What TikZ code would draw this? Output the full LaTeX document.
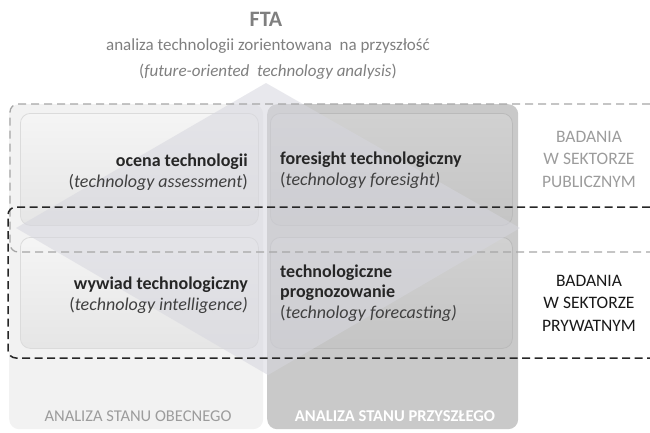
\documentclass[tikz,border=0pt]{standalone}
\usepackage{fontspec}
\setmainfont{Carlito}
\definecolor{colLbg}{HTML}{F2F2F2}
\definecolor{colRbg}{HTML}{C9C9C9}
\definecolor{diam}{HTML}{D6D6DE}
\definecolor{txtdark}{HTML}{262626}
\definecolor{txtit}{HTML}{404040}
\definecolor{titlegray}{HTML}{7F7F7F}
\definecolor{pubgray}{HTML}{9C9C9C}
\definecolor{dashgray}{HTML}{A6A6A6}
\begin{document}
\begin{tikzpicture}[x=1pt,y=-1pt,
  column/.style={rounded corners=10pt, minimum height=325pt, anchor=north west, inner sep=0pt},
  lbox/.style={rounded corners=10pt, minimum width=238pt, minimum height=112pt, anchor=north west, inner sep=0pt,
     top color=white!96!black, bottom color=white!90!black, draw=white!86!black, line width=0.8pt},
  rbox/.style={rounded corners=10pt, minimum width=242pt, minimum height=112pt, anchor=north west, inner sep=0pt,
     top color=white!82!black, bottom color=white!77!black, draw=white!73!black, line width=0.8pt},
  boxtext/.style={font=\fontsize{18}{20.5}\selectfont, text=txtdark, inner sep=0pt},
  sidelabel/.style={font=\fontsize{17.5}{22.5}\selectfont, align=center, inner sep=0pt},
  botlabel/.style={font=\fontsize{16.5}{18}\selectfont, inner sep=0pt},
  pubdash/.style={draw=dashgray, line width=1.3pt, dash pattern=on 8pt off 5pt, rounded corners=8pt},
  privdash/.style={draw=black!85, line width=1.5pt, dash pattern=on 8pt off 4.5pt, rounded corners=8pt},
]
\useasboundingbox (0,0) rectangle (650,432);

% columns
\node[column, fill=colLbg, minimum width=254pt] (colL) at (9,104) {};
\node[column, fill=colRbg, minimum width=251pt] (colR) at (267,104) {};

% inner boxes
\node[lbox] (bTL) at (20,113) {};
\node[rbox] (bTR) at (270,113) {};
\node[lbox, minimum height=111pt] (bBL) at (20,237) {};
\node[rbox, minimum height=111pt] (bBR) at (270,237) {};

% translucent diamond
\coordinate (dT) at (266,83);
\coordinate (dL) at (16,228);
\coordinate (dR) at (520,228);
\coordinate (dB) at (268,375);
\fill[diam, opacity=0.55] (dT) -- (dR) -- (dB) -- (dL) -- cycle;

% dashed sector frames
\coordinate (pubA) at (650,104);
\coordinate (pubB) at (10,104);
\coordinate (pubC) at (10,252);
\coordinate (pubD) at (650,252);
\draw[pubdash] (pubA) -- (pubB) -- (pubC) -- (pubD);
\coordinate (privA) at (650,207);
\coordinate (privB) at (8,207);
\coordinate (privC) at (8,358);
\coordinate (privD) at (650,358);
\draw[privdash] (privA) -- (privB) -- (privC) -- (privD);

% title
\node[font=\fontsize{22}{24}\selectfont\bfseries, text=titlegray, inner sep=0pt] (fta) at (266,19) {FTA};
\node[font=\fontsize{17}{18}\selectfont, text=titlegray, inner sep=0pt] (sub1) at (268,46) {analiza technologii zorientowana\ \ na przyszłość};
\node[font=\fontsize{17}{18}\selectfont, text=titlegray, inner sep=0pt] (sub2) at (268,72) {(\textit{future-oriented\ \ technology analysis})};

% box texts
\node[boxtext, align=right, anchor=east] (tTL) at (248,172) {\textbf{ocena technologii}\\\textcolor{txtit}{(\textit{technology assessment})}};
\node[boxtext, align=left, anchor=west] (tTR) at (280,170) {\textbf{foresight technologiczny}\\\textcolor{txtit}{(\textit{technology foresight)}}};
\node[boxtext, align=right, anchor=east] (tBL) at (248,295) {\textbf{wywiad technologiczny}\\\textcolor{txtit}{(\textit{technology intelligence)}}};
\node[boxtext, align=left, anchor=west] (tBR) at (280,293) {\textbf{technologiczne}\\\textbf{prognozowanie}\\\textcolor{txtit}{(\textit{technology forecasting)}}};

% side labels
\node[sidelabel, text=pubgray] (pub) at (589,159) {BADANIA\\W SEKTORZE\\PUBLICZNYM};
\node[sidelabel, text=black!90] (priv) at (589,303) {BADANIA\\W SEKTORZE\\PRYWATNYM};

% bottom labels
\node[botlabel, text=pubgray] (now) at (138,416) {ANALIZA STANU OBECNEGO};
\node[botlabel, text=white, font=\fontsize{16.5}{18}\selectfont\bfseries] (fut) at (395,416) {ANALIZA STANU PRZYSZŁEGO};
\end{tikzpicture}
\end{document}
